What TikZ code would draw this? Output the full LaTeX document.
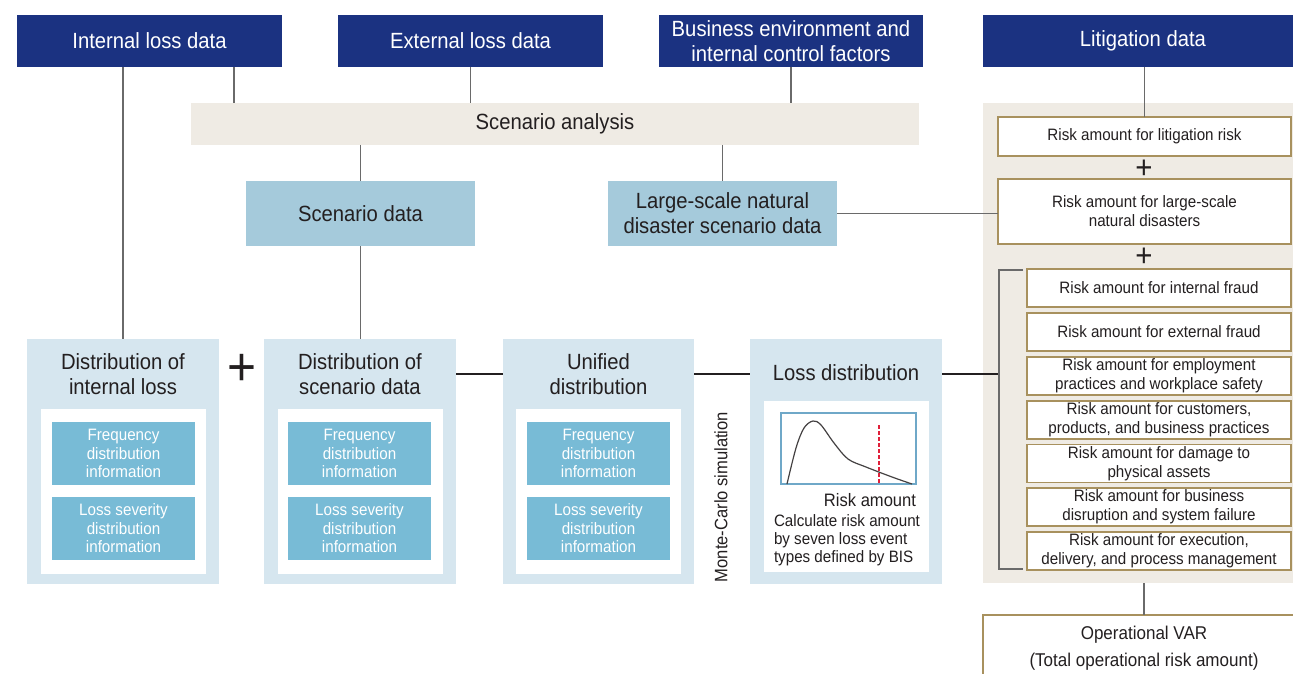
\documentclass[tikz,border=0pt]{standalone}
\usepackage{fontspec}
\setmainfont[FakeStretch=0.92]{Liberation Sans}
\definecolor{navy}{HTML}{1B3281}
\definecolor{sand}{HTML}{EFEBE4}
\definecolor{midblue}{HTML}{A5CADB}
\definecolor{paleblue}{HTML}{D6E6EF}
\definecolor{infoblue}{HTML}{78BBD6}
\definecolor{gold}{HTML}{A8915E}
\definecolor{ink}{HTML}{231F20}
\definecolor{wire}{HTML}{6A6A6A}
\definecolor{chartblue}{HTML}{6FA8C8}
\definecolor{redline}{HTML}{E0203A}
\newcommand\myfs[2]{\fontsize{#1}{#2}\selectfont}
\begin{document}
\begin{tikzpicture}[x=1pt,y=-1pt,
  every node/.style={inner sep=0pt, outer sep=0pt, align=center, text=ink},
  topbox/.style={fill=navy, text=white, minimum height=52pt, font=\myfs{22}{25}},
  sandbox/.style={fill=sand},
  midbox/.style={fill=midblue, minimum width=229pt, minimum height=65pt, font=\myfs{22}{25}},
  riskbox/.style={fill=white, draw=gold, line width=1.4pt, font=\myfs{16.5}{19}},
  sevenbox/.style={riskbox, minimum width=264pt, minimum height=38pt},
  distbox/.style={fill=paleblue, minimum width=192pt, minimum height=245pt},
  disttitle/.style={font=\myfs{22}{25}},
  innerbox/.style={fill=white, minimum width=165pt, minimum height=165pt},
  infobox/.style={fill=infoblue, text=white, minimum width=143pt, minimum height=63pt, font=\myfs{16.5}{18.5}},
  plussmall/.style={font=\myfs{32}{32}},
  wirestyle/.style={draw=wire, line width=1.1pt}
]
\path[use as bounding box, clip] (0,0) rectangle (1293,674);

% top data boxes
\node[topbox, minimum width=265pt] (il) at (149.5,41) {Internal loss data};
\node[topbox, minimum width=265pt] (el) at (470.5,41) {External loss data};
\node[topbox, minimum width=264pt] (be) at (791,41) {Business environment and\\internal control factors};
\node[topbox, minimum width=320pt] (lit) at (1143,41) {Litigation data};

% scenario analysis
\node[sandbox, minimum width=728pt, minimum height=42pt, font=\myfs{22}{25}] (sa) at (555,124) {Scenario analysis};
\node[midbox] (scd) at (360.5,213.5) {Scenario data};
\node[midbox] (lsd) at (722.5,213.5) {Large-scale natural\\disaster scenario data};

% right panel
\node[sandbox, minimum width=320pt, minimum height=480pt] (rp) at (1143,343) {};
\node[riskbox, minimum width=293pt, minimum height=39pt] (r0) at (1144.5,136.5) {Risk amount for litigation risk};
\node[plussmall] (p1) at (1144,169) {+};
\node[riskbox, minimum width=293pt, minimum height=65pt] (r1) at (1144.5,211.5) {Risk amount for large-scale\\natural disasters};
\node[plussmall] (p2) at (1144,257) {+};
\node[sevenbox] (r2) at (1159,288) {Risk amount for internal fraud};
\node[sevenbox] (r3) at (1159,332) {Risk amount for external fraud};
\node[sevenbox] (r4) at (1159,376) {Risk amount for employment\\practices and workplace safety};
\node[sevenbox] (r5) at (1159,420) {Risk amount for customers,\\products, and business practices};
\node[sevenbox] (r6) at (1159,463.5) {Risk amount for damage to\\physical assets};
\node[sevenbox] (r7) at (1159,507) {Risk amount for business\\disruption and system failure};
\node[sevenbox] (r8) at (1159,551) {Risk amount for execution,\\delivery, and process management};

% operational VAR
\node[riskbox, minimum width=330pt, minimum height=90pt, anchor=north west] (var) at (983,615) {};
\node[font=\myfs{18.5}{27}] (vartext) at (1144,648.5) {Operational VAR\\(Total operational risk amount)};

% distribution boxes
\node[distbox] (dil) at (123,461.5) {};
\node[distbox] (dsc) at (360,461.5) {};
\node[distbox, minimum width=191pt] (uni) at (598.5,461.5) {};
\node[distbox] (ldist) at (846,461.5) {};

\node[disttitle] (t1) at (123,374.5) {Distribution of\\internal loss};
\node[disttitle] (t2) at (360,374.5) {Distribution of\\scenario data};
\node[disttitle] (t3) at (598.5,374.5) {Unified\\distribution};
\node[disttitle] (t4) at (846,373) {Loss distribution};

\node[font=\myfs{54}{54}] (bigplus) at (242.5,370) {+};

\node[innerbox] (w1) at (123.5,491.5) {};
\node[innerbox] (w2) at (360.5,491.5) {};
\node[innerbox] (w3) at (598.5,491.5) {};
\node[innerbox, minimum height=171pt] (w4) at (846.5,486.5) {};

\node[infobox] (f1) at (123.5,453.5) {Frequency\\distribution\\information};
\node[infobox] (s1) at (123.5,528.5) {Loss severity\\distribution\\information};
\node[infobox] (f2) at (359.5,453.5) {Frequency\\distribution\\information};
\node[infobox] (s2) at (359.5,528.5) {Loss severity\\distribution\\information};
\node[infobox] (f3) at (598.5,453.5) {Frequency\\distribution\\information};
\node[infobox] (s3) at (598.5,528.5) {Loss severity\\distribution\\information};

% chart
\node[draw=chartblue, line width=1.3pt, minimum width=135pt, minimum height=71pt] (chart) at (848.5,448.5) {};
\draw[redline, line width=1.2pt, dash pattern=on 3.5pt off 2.5pt] (879,425) -- (879,484);
\draw[ink!85, line width=1.2pt] plot[smooth, tension=0.55] coordinates {(787,484) (796,448) (804,428) (813,421) (821,425) (834,443) (848,459) (866,467) (892,477) (912,484)};
\node[font=\myfs{18}{20}, anchor=east] (ra) at (916,500) {Risk amount};
\node[font=\myfs{16.5}{18}, align=left, anchor=west] (calc) at (774,540) {Calculate risk amount\\by seven loss event\\types defined by BIS};

\node[rotate=90, font=\myfs{18}{20}] (mc) at (721,497) {Monte-Carlo simulation};

% connectors
\draw[wirestyle] (dil.north |- il.south) -- (dil.north);
\draw[wirestyle] (il.south -| 234,0) -- (sa.north -| 234,0);
\draw[wirestyle] (el.south) -- (el.south |- sa.north);
\draw[wirestyle] (be.south) -- (be.south |- sa.north);
\draw[wirestyle] (r0.north |- lit.south) -- (r0.north);
\draw[wirestyle] (sa.south -| scd.north) -- (scd.north);
\draw[wirestyle] (sa.south -| lsd.north) -- (lsd.north);
\draw[wirestyle] (lsd.east) -- (lsd.east -| r1.west);
\draw[wirestyle] (scd.south) -- (scd.south |- dsc.north);
\draw[wirestyle, draw=ink] ([yshift=-35pt]dsc.north east) -- ([yshift=-35pt]uni.north west);
\draw[wirestyle, draw=ink] ([yshift=-35pt]uni.north east) -- ([yshift=-35pt]ldist.north west);
\coordinate (bk) at (999,374);
\draw[wirestyle, draw=ink] ([yshift=-35pt]ldist.north east) -- (bk);
\draw[wirestyle] (1023,270) -| (999,569) -- (1023,569);
\draw[wirestyle] (rp.south -| 1144,0) -- (var.north -| 1144,0);
\end{tikzpicture}
\end{document}
